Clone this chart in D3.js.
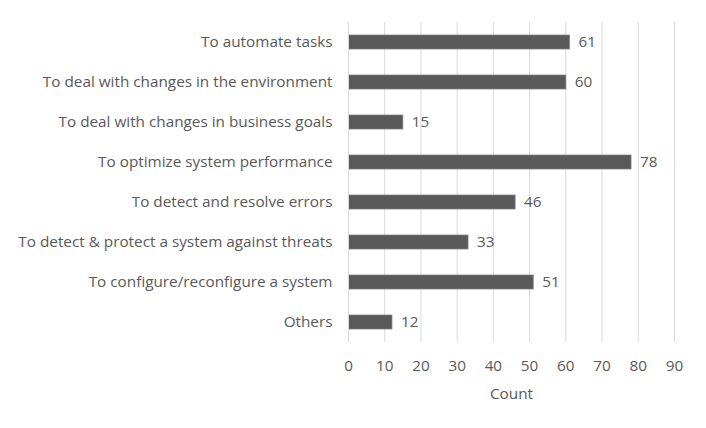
<!DOCTYPE html>
<html>
<head>
<meta charset="utf-8">
<script src="https://cdn.jsdelivr.net/npm/d3@7"></script>
<style>
  body { margin: 0; background: #fff; }
  text { font-family: "Open Sans", sans-serif; fill: #595959; }
</style>
</head>
<body>
<svg id="chart" width="706" height="428"></svg>
<script>
const categories = [
  'To automate tasks',
  'To deal with changes in the environment',
  'To deal with changes in business goals',
  'To optimize system performance',
  'To detect and resolve errors',
  'To detect & protect a system against threats',
  'To configure/reconfigure a system',
  'Others'
];
const counts = [61, 60, 15, 78, 46, 33, 51, 12];
const xTicks = [0, 10, 20, 30, 40, 50, 60, 70, 80, 90];

const margin = {top: 22, left: 348.5, right: 31.5, bottom: 86};
const width = 706, height = 428;
const fontSize = 15.3;

const svg = d3.select('#chart');

const x = d3.scaleLinear()
  .domain([0, 90])
  .range([margin.left, width - margin.right]);

const y = d3.scaleBand()
  .domain(categories)
  .range([margin.top, height - margin.bottom])
  .paddingInner(0.65)
  .paddingOuter(0.325);

// gridlines
svg.append('g')
  .selectAll('line')
  .data(xTicks.slice(1))
  .join('line')
  .attr('x1', d => x(d)).attr('x2', d => x(d))
  .attr('y1', margin.top).attr('y2', height - margin.bottom)
  .attr('stroke', '#d9d9d9')
  .attr('stroke-width', 1);

// bars
svg.append('g')
  .selectAll('rect')
  .data(counts)
  .join('rect')
  .attr('x', x(0))
  .attr('y', (d, i) => y(categories[i]))
  .attr('width', d => x(d) - x(0))
  .attr('height', y.bandwidth())
  .attr('fill', '#595959')
  .attr('stroke', '#7f7f7f')
  .attr('stroke-width', 0.75);

// category axis line
svg.append('line')
  .attr('x1', x(0)).attr('x2', x(0))
  .attr('y1', margin.top).attr('y2', height - margin.bottom)
  .attr('stroke', '#d9d9d9');

// value labels
svg.append('g')
  .selectAll('text')
  .data(counts)
  .join('text')
  .attr('x', d => x(d) + 9)
  .attr('y', (d, i) => y(categories[i]) + y.bandwidth() / 2)
  .attr('dy', '0.35em')
  .attr('font-size', fontSize)
  .text(d => d);

// category labels
svg.append('g')
  .selectAll('text')
  .data(categories)
  .join('text')
  .attr('x', x(0) - 16)
  .attr('y', d => y(d) + y.bandwidth() / 2)
  .attr('dy', '0.35em')
  .attr('text-anchor', 'end')
  .attr('font-size', fontSize)
  .text(d => d);

// x tick labels
svg.append('g')
  .selectAll('text')
  .data(xTicks)
  .join('text')
  .attr('x', d => x(d))
  .attr('y', 366)
  .attr('dy', '0.35em')
  .attr('text-anchor', 'middle')
  .attr('font-size', fontSize)
  .text(d => d);

// axis title
svg.append('text')
  .attr('x', (x(0) + x(90)) / 2)
  .attr('y', 394)
  .attr('dy', '0.35em')
  .attr('text-anchor', 'middle')
  .attr('font-size', fontSize)
  .text('Count');
</script>
</body>
</html>
